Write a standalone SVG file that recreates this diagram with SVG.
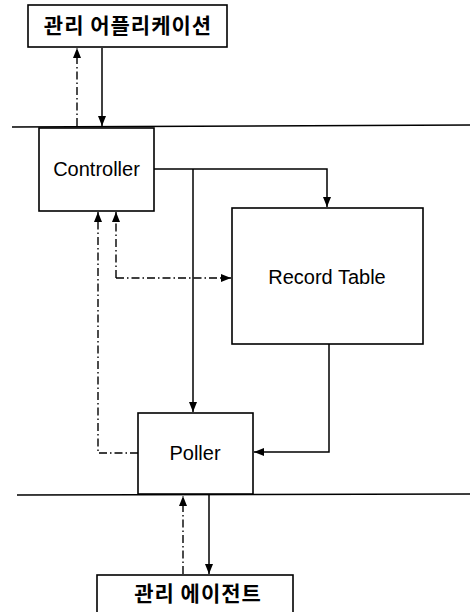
<svg xmlns="http://www.w3.org/2000/svg" width="470" height="612" viewBox="0 0 470 612">
<style>
.box{fill:#fff;stroke:#000;stroke-width:1.6}
.ln{fill:none;stroke:#000;stroke-width:1.5}
.dd{fill:none;stroke:#000;stroke-width:1.4;stroke-dasharray:8 3 1.5 3}
.ko{font-family:"Noto Sans CJK KR","Noto Sans CJK SC",sans-serif;font-weight:bold;font-size:21px;letter-spacing:1px;text-anchor:middle}
.en{font-family:"Liberation Sans",Arial,sans-serif;font-size:20px;text-anchor:middle}
</style>
<defs>
<marker id="ah" viewBox="0 0 10 8" refX="10" refY="4" markerWidth="10" markerHeight="8" markerUnits="userSpaceOnUse" orient="auto">
<path d="M0,0 L10,4 L0,8 Z" fill="#000"/>
</marker>
</defs>
<g id="boundaries">
<line class="ln" x1="12" y1="127" x2="470" y2="125"/>
<line class="ln" x1="17" y1="495" x2="470" y2="494"/>
</g>
<g id="mgmt-app">
<rect class="box" x="28" y="5" width="199" height="42"/>
<text class="ko" x="128" y="33">관리 어플리케이션</text>
</g>
<g id="controller">
<rect class="box" x="39" y="128" width="115" height="83"/>
<text class="en" x="96.5" y="176">Controller</text>
</g>
<g id="record-table">
<rect class="box" x="232" y="208" width="191" height="136"/>
<text class="en" x="327" y="284">Record Table</text>
</g>
<g id="poller">
<rect class="box" x="138" y="413" width="115" height="81"/>
<text class="en" x="195" y="460">Poller</text>
</g>
<g id="mgmt-agent">
<rect class="box" x="97" y="575" width="196" height="45"/>
<text class="ko" x="198" y="601">관리 에이전트</text>
</g>
<g id="connectors">
<path class="dd" d="M77,126 V48" marker-end="url(#ah)"/>
<path class="ln" d="M102,48 V126" marker-end="url(#ah)"/>
<path class="ln" d="M154,169 H327 V207" marker-end="url(#ah)"/>
<path class="ln" d="M193,169 V412" marker-end="url(#ah)"/>
<path class="ln" d="M329,344 V452 H254" marker-end="url(#ah)"/>
<path class="dd" d="M116,278 H231" marker-end="url(#ah)"/>
<path class="dd" d="M116,278 V212" marker-end="url(#ah)"/>
<path class="dd" d="M138,453 H98 V212" marker-end="url(#ah)"/>
<path class="dd" d="M183,574 V496" marker-end="url(#ah)"/>
<path class="ln" d="M209,495 V574" marker-end="url(#ah)"/>
</g>
</svg>
